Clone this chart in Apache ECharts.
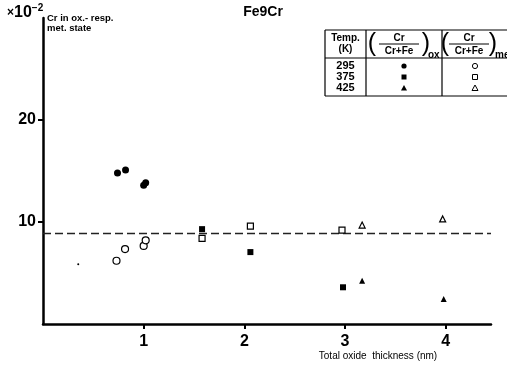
<!DOCTYPE html>
<html><head><meta charset="utf-8">
<script src="https://cdn.jsdelivr.net/npm/echarts@6/dist/echarts.min.js"></script>
<style>html,body{margin:0;padding:0;background:#fff}#c{width:507px;height:369px}</style>
</head><body><div id="c"></div>
<script>
var title = 'Fe9Cr';
var xTicks = [1, 2, 3, 4];
var yTicks = [10, 20];
var refLevel = 8.9;
var ox295 = [[0.74, 14.8], [0.82, 15.1], [1.00, 13.6], [1.02, 13.85]];
var met295 = [[0.73, 6.2], [0.815, 7.35], [1.00, 7.65], [1.02, 8.2]];
var ox375 = [[1.58, 9.3], [2.06, 7.05], [2.98, 3.6]];
var met375 = [[1.58, 8.4], [2.06, 9.6], [2.97, 9.2]];
var ox425 = [[3.17, 4.25], [3.98, 2.45]];
var met425 = [[3.17, 9.7], [3.97, 10.3]];
var stray = [[0.35, 5.85]];
var tempLabels = ['295', '375', '425'];

var chart = echarts.init(document.getElementById('c'));
var F = 'Liberation Sans, Arial, sans-serif';
function filled(sym, size, data) {
  return {type: 'scatter', data: data, symbol: sym, symbolSize: size,
    itemStyle: {color: '#000', opacity: 1}, z: 5};
}
function open(sym, size, data) {
  return {type: 'scatter', data: data, symbol: sym, symbolSize: size,
    itemStyle: {color: '#fff', borderColor: '#000', borderWidth: 1.2, opacity: 1}, z: 5};
}
var series = [
  filled('circle', 7, ox295), open('circle', 7, met295),
  filled('rect', 6, ox375), open('rect', 6, met375),
  filled('triangle', 6, ox425), open('triangle', 6, met425),
  filled('circle', 2, stray),
  {type: 'line', data: [], markLine: {silent: true, symbol: 'none', label: {show: false},
    lineStyle: {color: '#222', type: [8, 4], width: 1.3},
    data: [{yAxis: refLevel}]}}
];

// table (legend) drawing
var T = {l: 325, t: 30, r: 520, b: 96, c1: 366, c2: 442, h: 58};
var rowsY = [66, 77, 88];
var g = [];
function line(x1, y1, x2, y2, w) { g.push({type: 'line', shape: {x1: x1, y1: y1, x2: x2, y2: y2}, style: {stroke: '#000', lineWidth: w || 1.2}, z: 10}); }
function txt(x, y, s, size, align, weight) { g.push({type: 'text', x: x, y: y, style: {text: s, font: (weight || 'bold') + ' ' + size + 'px ' + F, fill: '#000', align: align || 'center', verticalAlign: 'middle'}, z: 10}); }
line(T.l, T.t, T.r, T.t); line(T.l, T.t, T.l, T.b); line(T.l, T.b, T.r, T.b, 1);
line(T.l, T.h, T.r, T.h); line(T.c1, T.t, T.c1, T.b); line(T.c2, T.t, T.c2, T.b);
txt(345.5, 38, 'Temp.', 10); txt(345.5, 49, '(K)', 10);
function frac(cx, half, sub) {
  txt(cx, 38, 'Cr', 10); line(cx - 20, 44, cx + 20, 44, 1); txt(cx, 51, 'Cr+Fe', 10);
  txt(cx - half, 44, '(', 25, 'center', 'normal'); txt(cx + half, 44, ')', 25, 'center', 'normal');
  txt(cx + half + 2, 55, sub, 10, 'left');
}
frac(399, 27, 'ox'); frac(469, 24, 'met');
for (var i = 0; i < 3; i++) txt(345.5, rowsY[i], tempLabels[i], 11);
var shapes = ['circle', 'rect', 'triangle'];
function sym(kind, x, y, fill) {
  var st = {fill: fill ? '#000' : '#fff', stroke: '#000', lineWidth: fill ? 0 : 1};
  if (kind === 'circle') g.push({type: 'circle', shape: {cx: x, cy: y, r: 2.6}, style: st, z: 10});
  else if (kind === 'rect') g.push({type: 'rect', shape: {x: x - 2.5, y: y - 2.5, width: 5, height: 5}, style: st, z: 10});
  else g.push({type: 'polygon', shape: {points: [[x, y - 3], [x + 3, y + 2.5], [x - 3, y + 2.5]]}, style: st, z: 10});
}
for (var j = 0; j < 3; j++) { sym(shapes[j], 404, rowsY[j], true); sym(shapes[j], 475, rowsY[j], false); }
// axis annotations
g.push({type: 'text', x: 7, y: 13, style: {rich: {a: {font: 'bold 12px ' + F, fill: '#000'}, b: {font: 'bold 16px ' + F, fill: '#000'}, c: {font: 'bold 10px ' + F, fill: '#000', verticalAlign: 'top', padding: [0, 0, 10, 0]}}, text: '{a|×}{b|10}{c|−2}', verticalAlign: 'middle'}, z: 10});
g.push({type: 'text', x: 47, y: 13, style: {text: 'Cr in ox.- resp.\nmet. state', font: 'bold 9.5px ' + F, fill: '#000', lineHeight: 10}, z: 10});
g.push({type: 'text', x: 378, y: 356, style: {text: 'Total oxide  thickness (nm)', font: '10px ' + F, fill: '#000', align: 'center', verticalAlign: 'middle'}, z: 10});

chart.setOption({
  animation: false,
  backgroundColor: '#fff',
  title: {text: title, left: 258, top: 0, textAlign: 'center', textStyle: {fontFamily: F, fontWeight: 'bold', fontSize: 14, color: '#000'}},
  grid: {left: 43, right: 16, top: 18, bottom: 45},
  xAxis: {type: 'value', min: 0, max: 4.45, interval: 1,
    axisLine: {onZero: false, lineStyle: {color: '#000', width: 2.5}},
    axisTick: {show: true, customValues: xTicks, length: 5, lineStyle: {color: '#000', width: 2}},
    axisLabel: {customValues: xTicks, color: '#000', fontFamily: F, fontWeight: 'bold', fontSize: 16, margin: 10},
    splitLine: {show: false}},
  yAxis: {type: 'value', min: 0, max: 30, interval: 10,
    axisLine: {show: true, onZero: false, lineStyle: {color: '#000', width: 2.5}},
    axisTick: {show: true, customValues: yTicks, length: 5, lineStyle: {color: '#000', width: 2}},
    axisLabel: {customValues: yTicks, color: '#000', fontFamily: F, fontWeight: 'bold', fontSize: 16, margin: 7},
    splitLine: {show: false}},
  graphic: g,
  series: series
});
</script></body></html>
